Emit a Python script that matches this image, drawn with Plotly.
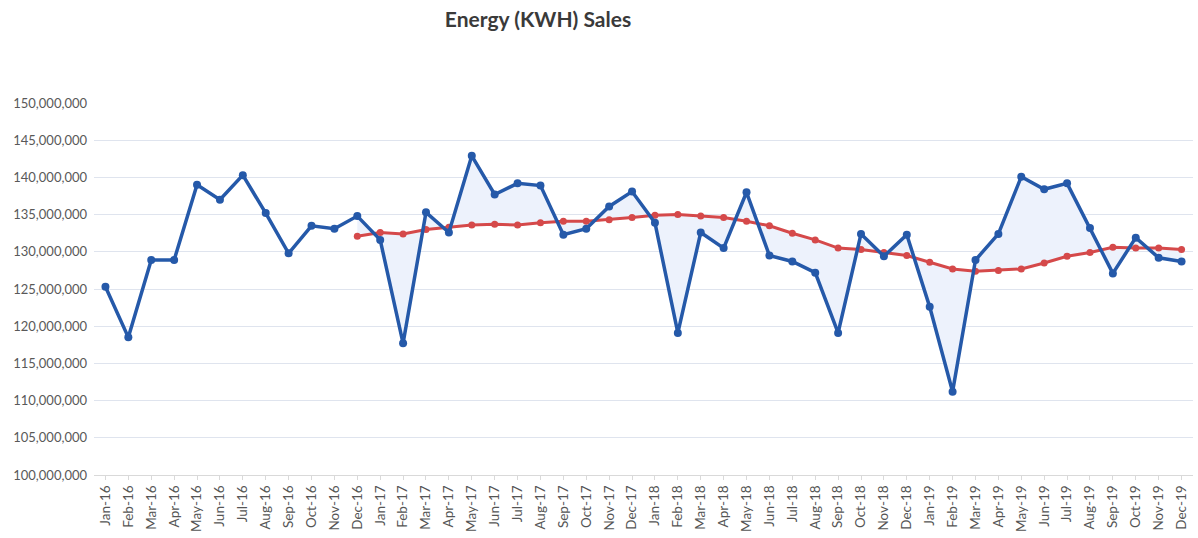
import plotly.graph_objects as go

months = ["Jan", "Feb", "Mar", "Apr", "May", "Jun", "Jul", "Aug", "Sep", "Oct", "Nov", "Dec"]
years = ["16", "17", "18", "19"]
categories = [f"{m}-{y}" for y in years for m in months]

# Monthly energy sales (KWH)
sales = [
    125.3e6, 118.5e6, 128.9e6, 128.9e6, 139.0e6, 137.0e6, 140.3e6, 135.2e6, 129.8e6, 133.5e6, 133.1e6, 134.8e6,
    131.6e6, 117.7e6, 135.3e6, 132.6e6, 142.9e6, 137.7e6, 139.2e6, 138.9e6, 132.3e6, 133.1e6, 136.1e6, 138.1e6,
    133.9e6, 119.1e6, 132.6e6, 130.5e6, 138.0e6, 129.5e6, 128.7e6, 127.2e6, 119.1e6, 132.4e6, 129.4e6, 132.3e6,
    122.6e6, 111.2e6, 128.9e6, 132.4e6, 140.1e6, 138.4e6, 139.2e6, 133.2e6, 127.1e6, 131.9e6, 129.2e6, 128.7e6,
]

# 12-month trend line, starting at Dec-16
trend_categories = categories[11:]
trend = [
    132.1e6,
    132.6e6, 132.4e6, 133.0e6, 133.3e6, 133.6e6, 133.7e6, 133.6e6, 133.9e6, 134.1e6, 134.1e6, 134.3e6, 134.6e6,
    134.9e6, 135.0e6, 134.8e6, 134.6e6, 134.1e6, 133.5e6, 132.5e6, 131.6e6, 130.5e6, 130.3e6, 129.9e6, 129.5e6,
    128.6e6, 127.7e6, 127.4e6, 127.5e6, 127.7e6, 128.5e6, 129.4e6, 129.9e6, 130.6e6, 130.5e6, 130.5e6, 130.3e6,
]

y_ticks = [100e6 + 5e6 * i for i in range(11)]
y_tick_text = [f"{int(v):,}" for v in y_ticks]

BLUE = "#2559a9"
RED = "#d5494a"
FILL = "#edf2fc"

fig = go.Figure()

# invisible base for the shaded band (sales over the trend period)
fig.add_trace(go.Scatter(
    x=trend_categories, y=sales[11:], mode="lines",
    line=dict(width=0, color=BLUE), hoverinfo="skip", showlegend=False,
))
fig.add_trace(go.Scatter(
    x=trend_categories, y=trend, mode="lines+markers",
    line=dict(color=RED, width=3), marker=dict(color=RED, size=7),
    fill="tonexty", fillcolor=FILL, name="Trend", showlegend=False,
))
fig.add_trace(go.Scatter(
    x=categories, y=sales, mode="lines+markers",
    line=dict(color=BLUE, width=3.5), marker=dict(color=BLUE, size=8),
    name="Energy Sales", showlegend=False,
))

fig.update_layout(
    width=1198, height=538,
    margin=dict(l=94, r=5, t=103, b=63),
    paper_bgcolor="white", plot_bgcolor="white",
    font=dict(family="Lato, sans-serif", color="#595959"),
    title=dict(
        text="<b>Energy (KWH) Sales</b>",
        x=538 / 1198, xref="container", xanchor="center",
        y=1 - 20 / 538, yref="container", yanchor="middle",
        font=dict(family="Lato, sans-serif", size=21, color="#3a3a3a"),
    ),
)
fig.update_xaxes(
    type="category", categoryorder="array", categoryarray=categories,
    tickangle=-90, tickfont=dict(size=13.5, color="#555555"),
    showgrid=False, showline=True, linecolor="#d9d9d9", linewidth=1,
    ticks="outside", ticklen=4, tickcolor="#d9d9d9",
    range=[-0.5, len(categories) - 0.5],
)
fig.update_yaxes(
    range=[100e6, 150e6], tickvals=y_ticks, ticktext=y_tick_text,
    tickfont=dict(size=13, color="#595959"),
    showgrid=True, gridcolor="#dfe4ee", gridwidth=1,
    zeroline=False, showline=False, ticks="", ticklabelstandoff=6,
)

fig.write_html(
    "out.html",
    config={"displayModeBar": False},
    post_script="document.body.style.margin='0';document.body.style.overflow='hidden';",
)
